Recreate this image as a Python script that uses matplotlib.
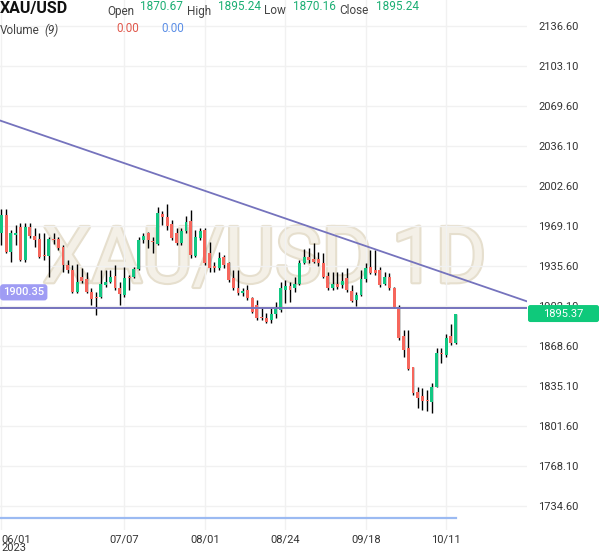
import numpy as np
import pandas as pd
import matplotlib
matplotlib.use("Agg")
import matplotlib.pyplot as plt
import matplotlib.patheffects as pe
from matplotlib.patches import FancyBboxPatch

# daily XAU/USD candles (06/01 .. 10/13 2023)
opens = [1962.5, 1977.9, 1947.2, 1961.1, 1968.1, 1940.2, 1968.1, 1960.6, 1957.5, 1943.8,
         1943.6, 1957.7, 1957.5, 1951.4, 1936.0, 1931.8, 1913.7, 1925.7, 1924.0, 1913.7,
         1909.1, 1908.9, 1919.3, 1922.1, 1926.8, 1916.5, 1910.9, 1926.0, 1925.7, 1932.7,
         1956.9, 1962.5, 1955.8, 1953.5, 1978.4, 1976.5, 1970.1, 1962.5, 1954.2, 1964.5,
         1973.0, 1943.8, 1958.9, 1965.3, 1945.8, 1935.4, 1933.8, 1943.0, 1937.4, 1924.8,
         1916.5, 1912.8, 1915.1, 1908.1, 1902.5, 1892.7, 1891.3, 1890.0, 1895.0, 1898.3,
         1915.1, 1918.4, 1916.5, 1920.1, 1938.0, 1942.4, 1940.8, 1940.8, 1938.0, 1926.8,
         1916.5, 1920.1, 1919.3, 1924.8, 1914.5, 1906.7, 1910.9, 1924.0, 1934.6, 1931.8,
         1931.8, 1920.1, 1926.2, 1916.5, 1900.6, 1876.5, 1866.2, 1850.3, 1829.9, 1826.3,
         1822.6, 1821.5, 1834.1, 1862.6, 1860.6, 1876.5, 1870.67]
highs = [1982.9, 1982.9, 1965.3, 1969.5, 1970.9, 1970.9, 1970.9, 1966.7, 1963.1, 1962.5,
         1959.7, 1962.5, 1959.7, 1952.8, 1940.2, 1936.0, 1936.8, 1933.2, 1930.4, 1916.5,
         1913.7, 1931.8, 1931.8, 1931.8, 1936.0, 1922.1, 1934.6, 1927.6, 1934.6, 1959.7,
         1963.1, 1963.9, 1959.7, 1985.0, 1981.2, 1986.8, 1973.5, 1966.7, 1966.7, 1977.3,
         1982.1, 1965.3, 1966.7, 1966.7, 1955.6, 1938.8, 1947.2, 1944.4, 1938.8, 1931.8,
         1931.8, 1916.5, 1919.3, 1909.5, 1906.7, 1901.1, 1895.5, 1899.7, 1905.3, 1922.1,
         1923.4, 1922.1, 1926.2, 1940.2, 1949.1, 1950.0, 1954.2, 1947.2, 1945.8, 1930.4,
         1930.4, 1930.4, 1930.4, 1933.2, 1919.3, 1913.7, 1931.8, 1938.0, 1948.6, 1948.6,
         1934.6, 1930.4, 1929.0, 1917.9, 1902.5, 1881.6, 1881.6, 1850.9, 1834.1, 1832.7,
         1831.3, 1836.9, 1866.2, 1866.9, 1878.5, 1886.6, 1895.24]
lows = [1952.8, 1945.8, 1938.8, 1952.8, 1939.5, 1938.8, 1958.3, 1951.4, 1941.6, 1940.2,
        1926.2, 1954.0, 1948.6, 1930.4, 1929.0, 1912.3, 1912.3, 1920.7, 1912.3, 1902.5,
        1894.1, 1908.0, 1918.0, 1920.7, 1915.0, 1902.5, 1909.5, 1915.0, 1924.8, 1931.8,
        1954.2, 1950.0, 1945.8, 1952.8, 1969.5, 1965.3, 1957.0, 1952.8, 1952.8, 1962.5,
        1941.6, 1943.0, 1957.0, 1936.0, 1930.4, 1929.8, 1932.0, 1933.5, 1922.0, 1915.0,
        1910.9, 1910.0, 1906.7, 1895.5, 1889.9, 1889.9, 1887.1, 1887.1, 1891.3, 1896.9,
        1903.9, 1905.3, 1913.7, 1919.3, 1937.0, 1937.4, 1937.4, 1935.0, 1924.8, 1915.1,
        1915.1, 1916.0, 1916.5, 1913.7, 1905.3, 1901.7, 1910.0, 1922.0, 1928.8, 1927.6,
        1917.9, 1919.3, 1915.1, 1899.7, 1873.2, 1858.7, 1848.0, 1826.8, 1816.0, 1814.6,
        1814.0, 1811.8, 1834.1, 1853.7, 1859.2, 1869.0, 1870.16]
closes = [1977.9, 1947.2, 1962.5, 1963.1, 1940.2, 1968.1, 1960.6, 1956.9, 1943.0, 1943.2,
          1957.5, 1957.2, 1950.0, 1936.0, 1931.8, 1913.7, 1922.1, 1922.9, 1913.7, 1907.5,
          1908.6, 1920.1, 1922.1, 1925.7, 1916.5, 1911.7, 1924.8, 1925.0, 1932.7, 1956.9,
          1960.3, 1956.9, 1955.4, 1979.5, 1976.5, 1969.0, 1958.9, 1954.2, 1964.5, 1971.7,
          1944.0, 1959.7, 1964.5, 1937.4, 1933.8, 1933.8, 1942.1, 1936.0, 1923.4, 1916.5,
          1912.3, 1914.5, 1908.1, 1896.9, 1891.3, 1891.3, 1888.5, 1895.0, 1898.9, 1916.5,
          1918.4, 1915.1, 1920.1, 1938.0, 1943.0, 1940.2, 1938.8, 1937.4, 1925.7, 1916.5,
          1920.1, 1917.9, 1922.9, 1915.1, 1906.1, 1910.9, 1924.0, 1933.8, 1929.6, 1929.0,
          1919.3, 1925.7, 1916.5, 1900.6, 1874.6, 1864.8, 1848.6, 1828.5, 1824.3, 1822.4,
          1822.2, 1833.5, 1862.6, 1861.2, 1874.6, 1871.0, 1895.24]
volume_ma = np.zeros(len(closes))  # Volume (9) reads 0.00 everywhere

dates = pd.bdate_range("2023-06-01", periods=len(closes))
tick_dates = ["06/01", "07/07", "08/01", "08/24", "09/18", "10/11"]
price_ticks = [2136.60, 2103.10, 2069.60, 2036.10, 2002.60, 1969.10, 1935.60,
               1902.10, 1868.60, 1835.10, 1801.60, 1768.10, 1734.60]
support_level = 1900.35
trend_points = [(0, 2056.6), (96, 1926.1)]
last_price = 1895.37

up_color = "#12c782"
down_color = "#f6665c"
line_color = "#7573bd"

fig = plt.figure(figsize=(6, 5.58), dpi=100)
ax = fig.add_axes([0, 28 / 558, 527 / 600, 530 / 558])
ax.set_xlim(-0.317, 111.1)
ax.set_ylim(1714.1, 2157.96)

x = np.arange(len(closes))
o = np.array(opens); c = np.array(closes)
h = np.array(highs); l = np.array(lows)
rising = c >= o
colors = np.where(rising, up_color, down_color)
body_lo = np.minimum(o, c)
body_h = np.maximum(np.abs(c - o), 0.9)

# watermark
ax.text(0.502, 0.508, "XAU/USD 1D", transform=ax.transAxes, ha="center", va="center",
        fontsize=56, family="Roboto", weight="normal", color="#f4f0e7", zorder=0,
        path_effects=[pe.withStroke(linewidth=3, foreground="#e6dfce")])

ax.vlines(x, l, h, color="black", linewidth=1.0, zorder=2)
ax.bar(x, body_h, bottom=body_lo, width=0.62, color=colors, linewidth=0, zorder=3)

# drawings
ax.axhline(support_level, color=line_color, linewidth=1.4, zorder=4)
ax.axline(trend_points[0], trend_points[1], color=line_color, linewidth=1.3, zorder=4)
ax.annotate(f"{support_level:.2f}", xy=(0.006, support_level),
            xycoords=("axes fraction", "data"), xytext=(0, 11), textcoords="offset points",
            ha="left", va="center", fontsize=8, color="white", family="Roboto", weight="medium",
            bbox=dict(boxstyle="round,pad=0.28", fc="#9f9cf4", ec="none"), zorder=5)

# volume pane (flat line)
vax = ax.twinx()
vax.set_ylim(-0.0231, 1)
vax.plot(x, volume_ma, color="#9bbaf2", linewidth=1.6)
vax.axis("off")

# ticks and grid
tick_pos = [int(np.where(dates.strftime("%m/%d") == d)[0][0]) for d in tick_dates]
ax.set_xticks(tick_pos)
labels = [d for d in tick_dates]
labels[0] = "06/01\n2023"
ax.set_xticklabels(labels, fontsize=8, color="#333333", family="Roboto", linespacing=0.85)
ax.get_xticklabels()[0].set_horizontalalignment("left")
ax.get_xticklabels()[0].set_x(-0.3)
ax.set_yticks(price_ticks)
ax.set_yticklabels([f"{p:.2f}" for p in price_ticks], fontsize=8, color="#333333", family="Roboto")
ax.yaxis.tick_right()
ax.tick_params(axis="x", length=0, pad=3)
ax.tick_params(axis="y", length=0, pad=8)
ax.grid(True, color="#f1f1f1", linewidth=1)
ax.set_axisbelow(True)
for s in ax.spines.values():
    s.set_visible(False)

# last price tag
fig.canvas.draw()
y_px = ax.transData.transform((0, last_price))[1]
fig_h = fig.get_size_inches()[1] * fig.dpi
tag = FancyBboxPatch((528 / 600, (y_px - 8.5) / fig_h), 71 / 600, 17 / fig_h,
                     boxstyle="round,pad=0,rounding_size=0.004", transform=fig.transFigure,
                     fc="#0fc97b", ec="none")
fig.patches.append(tag)
fig.text(563 / 600, y_px / fig_h, f"{last_price:.2f}", ha="center", va="center",
         fontsize=8, color="white", family="Roboto")

# header
def htext(px, py, s, **kw):
    fig.text(px / 600, 1 - py / 558, s, va="center", ha="left", family="Roboto", **kw)

htext(0, 8, "XAU/USD", fontsize=11.5, weight="bold", color="#111111")
value_green = "#1aae73"
for lbl, lx, val, vx in [("Open", 107, opens[-1], 140), ("High", 187, highs[-1], 218),
                         ("Low", 264, lows[-1], 293), ("Close", 339, closes[-1], 376)]:
    htext(lx, 11, lbl, fontsize=8.5, color="#444444")
    htext(vx, 7, f"{val:.2f}", fontsize=8.5, color=value_green)
htext(0, 30, "Volume", fontsize=8.5, color="#444444")
htext(44, 30, "(9)", fontsize=8.5, color="#444444", style="italic")
htext(116, 29, f"{volume_ma[-1]:.2f}", fontsize=8.5, color="#e0584c")
htext(161, 29, f"{volume_ma[-1]:.2f}", fontsize=8.5, color="#5b8ee6")

fig.savefig("out.png", dpi=100)
